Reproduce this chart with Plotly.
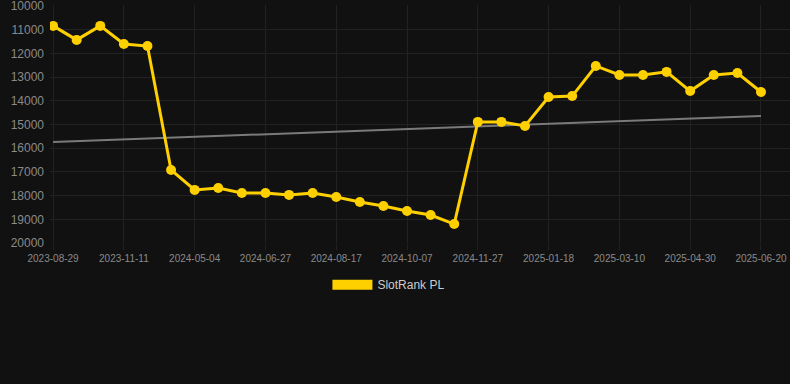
import plotly.graph_objects as go

categories = [
    "2023-08-29", "2023-09-22", "2023-10-17", "2023-11-11", "2023-12-05",
    "2024-03-20", "2024-05-04", "2024-05-22", "2024-06-09", "2024-06-27",
    "2024-07-14", "2024-07-31", "2024-08-17", "2024-09-03", "2024-09-20",
    "2024-10-07", "2024-10-24", "2024-11-10", "2024-11-27", "2024-12-14",
    "2024-12-31", "2025-01-18", "2025-02-04", "2025-02-21", "2025-03-10",
    "2025-03-27", "2025-04-13", "2025-04-30", "2025-05-17", "2025-06-03",
    "2025-06-20",
]
rank_values = [
    10840, 11430, 10840, 11600, 11690,
    16920, 17760, 17680, 17890, 17890,
    17970, 17890, 18060, 18270, 18440,
    18650, 18820, 19200, 14890, 14890,
    15060, 13840, 13800, 12530, 12910,
    12910, 12780, 13590, 12910, 12830,
    13630,
]
tick_labels = [
    "2023-08-29", "2023-11-11", "2024-05-04", "2024-06-27", "2024-08-17",
    "2024-10-07", "2024-11-27", "2025-01-18", "2025-03-10", "2025-04-30",
    "2025-06-20",
]
trend_x = ["2023-08-29", "2025-06-20"]
trend_values = [15740, 14640]
series_name = "SlotRank PL"

GOLD = "#FFD000"
BG = "#111111"
GRID = "#222222"

fig = go.Figure()
fig.add_trace(go.Scatter(
    x=trend_x, y=trend_values, mode="lines",
    line=dict(color="#7a7a7a", width=2), showlegend=False, hoverinfo="skip",
))
fig.add_trace(go.Scatter(
    x=categories, y=rank_values, mode="lines+markers",
    line=dict(color=GOLD, width=3),
    marker=dict(color=GOLD, size=10),
    name=series_name, showlegend=False, legendgroup="s",
))
fig.add_trace(go.Scatter(
    x=[None], y=[None], mode="lines",
    line=dict(color=GOLD, width=12),
    name=series_name, showlegend=True, legendgroup="s",
))

fig.update_layout(
    width=790, height=384,
    paper_bgcolor=BG, plot_bgcolor=BG,
    margin=dict(l=50, r=0, t=5, b=140),
    font=dict(family="Liberation Sans, Arial, sans-serif", color="#8a8a8a"),
    showlegend=True,
    legend=dict(
        orientation="h", x=0.458, xanchor="center", y=-0.11, yanchor="top",
        itemwidth=40,
        font=dict(size=12, color="#cccccc"), bgcolor="rgba(0,0,0,0)",
    ),
    xaxis=dict(
        type="category", categoryorder="array", categoryarray=categories,
        range=[-0.13, 31.23],
        tickmode="array", tickvals=tick_labels, ticktext=tick_labels,
        tickfont=dict(size=10, color="#8a8a8a"),
        showgrid=True, gridcolor=GRID, gridwidth=1,
        ticks="outside", ticklen=5, tickcolor=GRID,
        showline=False, zeroline=False,
        ticklabeloverflow="allow",
    ),
    yaxis=dict(
        range=[20042, 9958], dtick=1000, tick0=10000,
        tickfont=dict(size=12, color="#8a8a8a"),
        showgrid=True, gridcolor=GRID, gridwidth=1,
        ticks="", showline=False, zeroline=False,
        tickformat="d", ticklabelstandoff=5,
        ticklabeloverflow="allow",
    ),
)

fig.write_html(
    "out.html",
    config={"displayModeBar": False},
    post_script="document.body.style.margin='0';document.body.style.background='#111111';",
)
